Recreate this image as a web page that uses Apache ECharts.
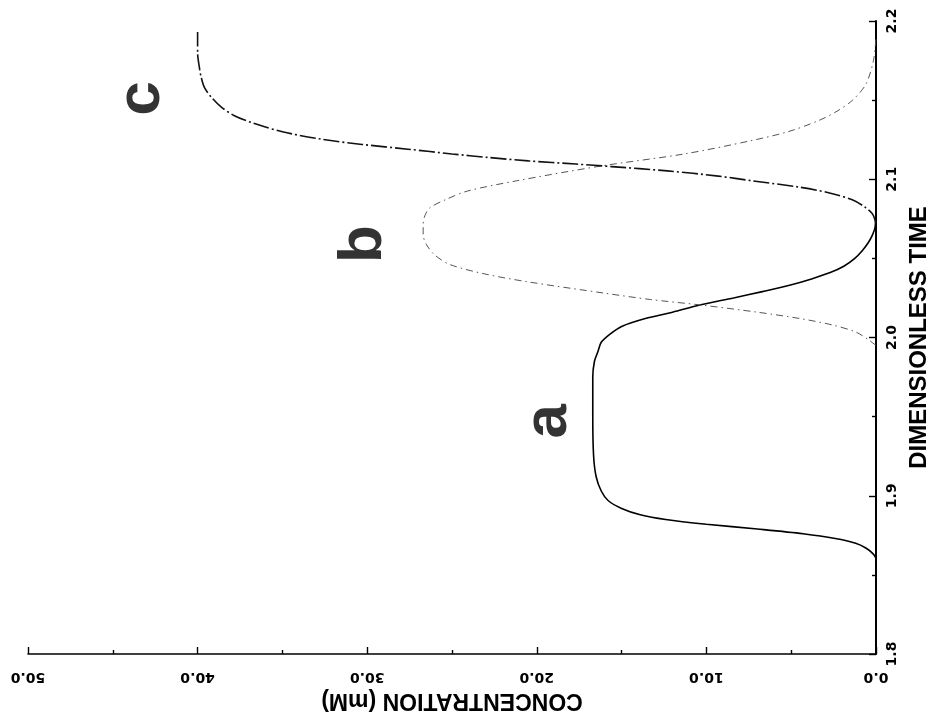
<!DOCTYPE html>
<html>
<head>
<meta charset="utf-8">
<script src="https://cdn.jsdelivr.net/npm/echarts@6/dist/echarts.min.js"></script>
<style>
  html, body { margin: 0; padding: 0; background: #fff; }
  #chart { width: 928px; height: 715px; }
</style>
</head>
<body>
<div id="chart"></div>
<script>
// Concentration profiles against dimensionless time (plot turned on its side:
// time runs up the right-hand axis, concentration grows to the left).

// Species a — solid curve
const timeA = [1.855, 1.860, 1.8636, 1.867, 1.870, 1.873, 1.876, 1.879, 1.882, 1.885,
  1.888, 1.892, 1.897, 1.903, 1.912, 1.925, 1.950, 1.975, 1.985, 1.991, 1.997, 2.002,
  2.007, 2.012, 2.016, 2.0205, 2.025, 2.029, 2.033, 2.037, 2.041, 2.045, 2.050, 2.055,
  2.060, 2.065, 2.070, 2.085];
const concA = [0, 0, 0.2, 0.6, 1.2, 2.4, 4.3, 7.0, 10.0, 12.4,
  13.9, 15.0, 15.8, 16.2, 16.5, 16.65, 16.7, 16.7, 16.6, 16.4, 16.2, 15.7,
  15.0, 13.6, 12.0, 10.4, 8.4, 6.7, 5.1, 3.8, 2.7, 1.9, 1.25, 0.8,
  0.45, 0.2, 0.05, 0];

// Species b — light dashed curve
const timeB = [1.995, 1.999, 2.0035, 2.008, 2.012, 2.016, 2.0205, 2.024, 2.028, 2.0353,
  2.040, 2.046, 2.052, 2.0586, 2.065, 2.0713, 2.077, 2.082, 2.087, 2.0925, 2.099,
  2.1084, 2.116, 2.1243, 2.130, 2.137, 2.143, 2.1498, 2.160, 2.175, 2.190];
const concB = [0, 0.5, 1.2, 2.6, 4.5, 7.0, 10.3, 13.3, 16.0, 20.6,
  23.0, 25.1, 26.0, 26.5, 26.7, 26.7, 26.6, 26.3, 25.4, 24.1, 21.2,
  16.2, 11.3, 7.4, 5.2, 3.4, 2.3, 1.4, 0.6, 0.15, 0];

// Species c — dash-dot curve
const timeC = [2.072, 2.078, 2.082, 2.087, 2.0915, 2.095, 2.099, 2.102, 2.1053, 2.108,
  2.1096, 2.1116, 2.1138, 2.116, 2.119, 2.122, 2.1253, 2.130, 2.135, 2.140, 2.1456,
  2.152, 2.158, 2.165, 2.171, 2.180, 2.193];
const concC = [0, 0.2, 0.6, 1.4, 2.8, 4.5, 7.3, 9.3, 12.3, 15.6,
  17.7, 20.5, 22.9, 25.0, 27.6, 30.3, 32.7, 35.0, 36.6, 37.8, 38.6,
  39.2, 39.6, 39.8, 39.9, 40.0, 40.0];

// Curve letters and where they sit (concentration, time)
const letterNames = ['a', 'b', 'c'];
const letterConc = [19.3, 30.2, 43.3];
const letterTime = [1.947, 2.059, 2.151];

const pairs = (t, c) => t.map((v, i) => [c[i], v]);

const tickFont = { fontFamily: 'DejaVu Sans', fontWeight: 'bold', fontSize: 14, color: '#000' };
const titleFont = { fontFamily: 'Liberation Sans', fontWeight: 'bold', color: '#000' };

const chart = echarts.init(document.getElementById('chart'), null, { renderer: 'canvas' });

chart.setOption({
  animation: false,
  backgroundColor: '#fff',
  grid: { left: 28, right: 52, top: 21, bottom: 61, containLabel: false, outerBoundsMode: 'none' },
  xAxis: {
    type: 'value', min: 0, max: 50, interval: 10, inverse: true, position: 'bottom',
    name: 'CONCENTRATION (mM)', nameLocation: 'middle', nameGap: 35, nameRotate: 180,
    nameTextStyle: Object.assign({ fontSize: 23 }, titleFont),
    axisLine: { show: true, onZero: false, lineStyle: { color: '#000', width: 1.6 } },
    axisTick: { show: true, inside: true, length: 7, lineStyle: { color: '#000', width: 1.4 } },
    minorTick: { show: true, splitNumber: 2, length: 4, lineStyle: { color: '#000', width: 1.4 } },
    splitLine: { show: false }, minorSplitLine: { show: false },
    axisLabel: Object.assign({ rotate: 180, margin: 16, formatter: v => v.toFixed(1) }, tickFont)
  },
  yAxis: {
    type: 'value', min: 1.8, max: 2.2, interval: 0.1, position: 'right',
    name: 'DIMENSIONLESS TIME', nameLocation: 'middle', nameGap: 23, nameRotate: 90,
    nameTextStyle: Object.assign({ fontSize: 24 }, titleFont),
    axisLine: { show: true, onZero: false, lineStyle: { color: '#000', width: 2 } },
    axisTick: { show: true, inside: true, length: 7, lineStyle: { color: '#000', width: 1.4 } },
    minorTick: { show: true, splitNumber: 2, length: 4, lineStyle: { color: '#000', width: 1.4 } },
    splitLine: { show: false }, minorSplitLine: { show: false },
    axisLabel: Object.assign({ rotate: 90, margin: 9, formatter: v => v.toFixed(1) }, tickFont)
  },
  series: [
    {
      name: 'a', type: 'line', data: pairs(timeA, concA), showSymbol: false,
      smooth: 0.3,
      lineStyle: { color: '#000', width: 1.6, type: 'solid' }
    },
    {
      name: 'b', type: 'line', data: pairs(timeB, concB), showSymbol: false,
      smooth: 0.3,
      lineStyle: { color: '#555', width: 1, type: [7, 4, 1.5, 4] }
    },
    {
      name: 'c', type: 'line', data: pairs(timeC, concC), showSymbol: false,
      smooth: 0.3,
      lineStyle: { color: '#111', width: 1.6, type: [16, 3, 2, 3] }
    },
    {
      name: 'letters', type: 'scatter', silent: true, symbolSize: 1,
      itemStyle: { color: 'transparent' },
      data: letterNames.map((n, i) => ({ name: n, value: [letterConc[i], letterTime[i]] })),
      label: {
        show: true, position: 'inside', rotate: 90, formatter: p => p.name,
        fontFamily: 'Liberation Sans', fontWeight: 'bold', fontSize: 62, color: '#000'
      }
    }
  ]
});
</script>
</body>
</html>
